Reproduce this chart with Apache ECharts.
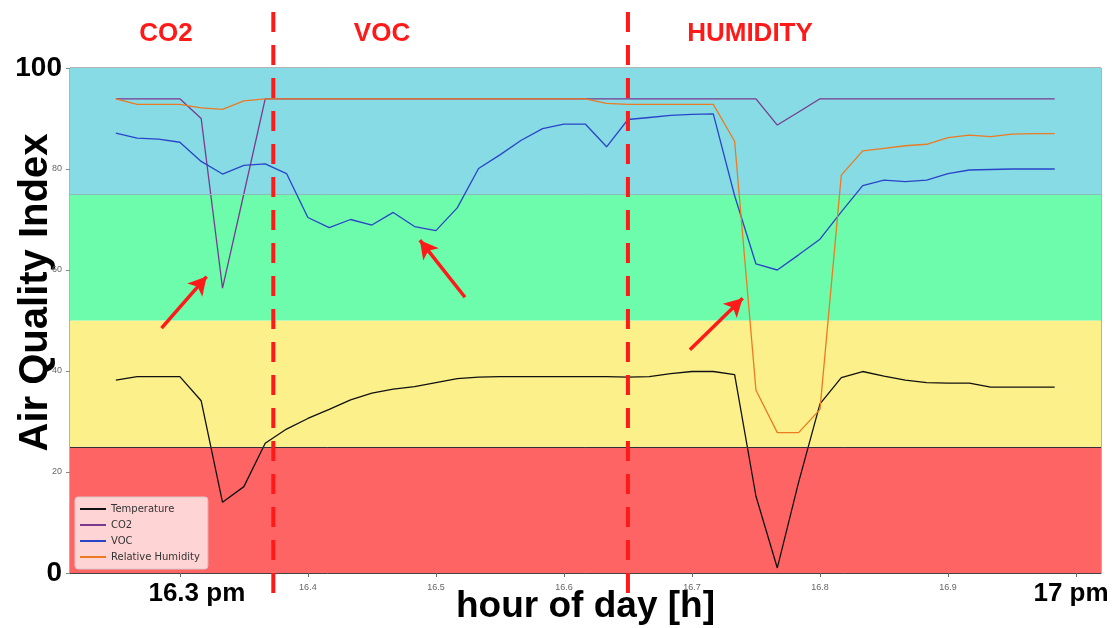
<!DOCTYPE html>
<html><head><meta charset="utf-8">
<script src="https://cdn.jsdelivr.net/npm/echarts@6/dist/echarts.min.js"></script>
<style>html,body{margin:0;padding:0;background:#fff}#c{width:1115px;height:628px}</style>
</head><body><div id="c"></div>
<script>
// ---- data (time = minutes past 16:00, one sample per minute) ----
const minutes = [15,16,17,18,19,20,21,22,23,24,25,26,27,28,29,30,31,32,33,34,35,36,37,38,39,40,41,42,43,44,45,46,47,48,49,50,51,52,53,54,55,56,57,58,59];
const temperature = [38.2,38.9,38.9,38.9,34.1,14.0,17.1,25.7,28.5,30.6,32.4,34.3,35.6,36.4,36.9,37.7,38.5,38.8,38.9,38.9,38.9,38.9,38.9,38.9,38.8,38.9,39.5,39.9,39.9,39.3,15.2,1.0,18.0,33.5,38.7,39.9,39.0,38.2,37.7,37.6,37.6,36.8,36.8,36.8,36.8];
const co2 = [93.9,93.9,93.9,93.9,90.0,56.4,75.1,93.9,93.9,93.9,93.9,93.9,93.9,93.9,93.9,93.9,93.9,93.9,93.9,93.9,93.9,93.9,93.9,93.9,93.9,93.9,93.9,93.9,93.9,93.9,93.9,88.7,91.3,93.9,93.9,93.9,93.9,93.9,93.9,93.9,93.9,93.9,93.9,93.9,93.9];
const voc = [87.1,86.1,85.9,85.3,81.5,79.0,80.7,81.0,79.1,70.4,68.4,70.0,68.9,71.4,68.6,67.8,72.3,80.1,82.8,85.7,88.0,88.9,88.9,84.4,89.8,90.2,90.6,90.8,90.9,74.7,61.2,60.0,63.0,66.1,71.5,76.7,77.8,77.5,77.8,79.1,79.8,79.9,80.0,80.0,80.0];
const humidity = [93.9,92.8,92.8,92.8,92.1,91.8,93.5,93.9,93.9,93.9,93.9,93.9,93.9,93.9,93.9,93.9,93.9,93.9,93.9,93.9,93.9,93.9,93.9,93.0,92.8,92.8,92.8,92.8,92.8,85.5,36.2,27.8,27.8,32.4,78.8,83.6,84.1,84.6,84.9,86.2,86.7,86.4,86.9,87.0,87.0];
const seriesNames = ['Temperature','CO2','VOC','Relative Humidity'];
const xTickValues = [16.3,16.4,16.5,16.6,16.7,16.8,16.9,17.0];
const yTickValues = [0,20,40,60,80,100];
const bandEdges = [0,25,50,75,100];
const dividerHours = [16.373,16.65];
const sectionLabels = ['CO2','VOC','HUMIDITY'];
const arrows = [[[16.2857,48.5],[16.3209,58.7]],[[16.5227,54.6],[16.4875,65.9]],[[16.6984,44.2],[16.7396,54.4]]];

const hours = minutes.map(m => 16 + m / 60);
const pairs = arr => arr.map((v, i) => [hours[i], v]);

const bandColors = ['#fe6464','#fcf08a','#6dfcab','#86dbe5'];
const lineColors = ['#111111','#7b3a8e','#2a44c8','#ec7a22'];
const RED = '#ff1a1a';
const SANS = '"Liberation Sans", Arial, sans-serif';

const chart = echarts.init(document.getElementById('c'), null, {renderer: 'canvas'});

const isVal = (a, b) => Math.abs(a - b) < 1e-6;

const option = {
  animation: false,
  backgroundColor: '#ffffff',
  grid: {left: 70, right: 14, top: 68, bottom: 55, containLabel: false, outerBoundsMode: 'none',
         show: true, borderColor: '#666', borderWidth: 1, backgroundColor: 'transparent'},
  legend: {
    data: seriesNames, orient: 'vertical', left: 75, top: 497,
    icon: 'rect', itemWidth: 26, itemHeight: 2, itemGap: 4,
    padding: [6, 8, 6, 5],
    backgroundColor: 'rgba(255,255,255,0.72)', borderColor: '#d8c8c8', borderWidth: 1, borderRadius: 3,
    textStyle: {fontFamily: '"DejaVu Sans", sans-serif', fontSize: 10, color: '#333', lineHeight: 12}
  },
  xAxis: {
    type: 'value', min: 16.2142, max: 17.0195,
    name: 'hour of day [h]', nameLocation: 'middle', nameGap: 14, nameMoveOverlap: false,
    nameTextStyle: {fontFamily: SANS, fontSize: 37, fontWeight: 'bold', color: '#000', verticalAlign: 'top', lineHeight: 40},
    axisLine: {show: true, lineStyle: {color: '#444', width: 1}},
    splitLine: {show: false},
    axisTick: {show: true, length: 4, lineStyle: {color: '#666'}, customValues: xTickValues},
    axisLabel: {
      customValues: xTickValues, margin: 10,
      formatter: v => {
        if (isVal(v, 16.3)) return '{big|16.3 pm}';
        if (isVal(v, 17.0)) return '{big2|17 pm}';
        return '{small|' + v.toFixed(1) + '}';
      },
      rich: {
        small: {fontSize: 9, color: '#666', fontFamily: SANS},
        big: {fontSize: 26, fontWeight: 'bold', color: '#000', fontFamily: SANS, lineHeight: 22, padding: [0, 0, 0, 34]},
        big2: {fontSize: 26, fontWeight: 'bold', color: '#000', fontFamily: SANS, lineHeight: 22, padding: [0, 10, 0, 0]}
      }
    }
  },
  yAxis: {
    type: 'value', min: 0, max: 100,
    name: 'Air Quality Index', nameLocation: 'middle', nameGap: 14, nameMoveOverlap: false,
    nameTextStyle: {fontFamily: SANS, fontSize: 40, fontWeight: 'bold', color: '#000', padding: [0, 0, 0, 56]},
    axisLine: {show: false},
    splitLine: {show: false},
    axisTick: {show: true, length: 4, lineStyle: {color: '#888'}, customValues: yTickValues},
    axisLabel: {
      customValues: yTickValues, margin: 8,
      formatter: v => (v === 0 || v === 100) ? '{big|' + v + '}' : '{small|' + v + '}',
      rich: {
        small: {fontSize: 9, color: '#666', fontFamily: SANS},
        big: {fontSize: 28, fontWeight: 'bold', color: '#000', fontFamily: SANS}
      }
    }
  },
  series: [
    {
      name: 'bands', type: 'line', data: [], z: 0, silent: true,
      markArea: {
        silent: true,
        data: bandEdges.slice(0, -1).map((lo, i) => [
          {yAxis: lo, itemStyle: {color: bandColors[i], opacity: 1}},
          {yAxis: bandEdges[i + 1]}
        ])
      },
      markLine: {
        silent: true, symbol: 'none', label: {show: false},
        data: [
          {yAxis: 25, lineStyle: {color: '#333', width: 1, type: 'solid'}},
          {yAxis: 75, lineStyle: {color: '#8fb8b8', width: 1, type: 'solid'}}
        ]
      }
    },
    ...[temperature, co2, voc, humidity].map((arr, i) => ({
      name: seriesNames[i], type: 'line', data: pairs(arr), z: 3 + i,
      showSymbol: false, symbol: 'none', color: lineColors[i],
      lineStyle: {color: lineColors[i], width: 1.3}
    })),
    {
      name: 'arrows', type: 'line', data: [], z: 10, silent: true,
      markLine: {
        silent: true, symbol: ['none', 'arrow'], symbolSize: [15, 18], label: {show: false},
        lineStyle: {color: RED, width: 3.5, type: 'solid'},
        data: arrows.map(a => [{coord: a[0]}, {coord: a[1]}])
      }
    }
  ]
};
chart.setOption(option);

// vertical dashed dividers spanning beyond the plot area, positioned through the x scale
const sectionCenters = [166, 382, 750];
const graphics = dividerHours.map(h => {
  const x = chart.convertToPixel({xAxisIndex: 0}, h);
  return {type: 'line', z: 20, shape: {x1: x, y1: 12, x2: x, y2: 598},
          style: {stroke: RED, lineWidth: 4, lineDash: [20, 13]}};
});
sectionLabels.forEach((t, i) => graphics.push({
  type: 'text', z: 20, x: sectionCenters[i], y: 34,
  style: {text: t, fill: RED, font: 'bold 26px ' + SANS, textAlign: 'center', textVerticalAlign: 'middle'}
}));
chart.setOption({graphic: graphics});
</script></body></html>
